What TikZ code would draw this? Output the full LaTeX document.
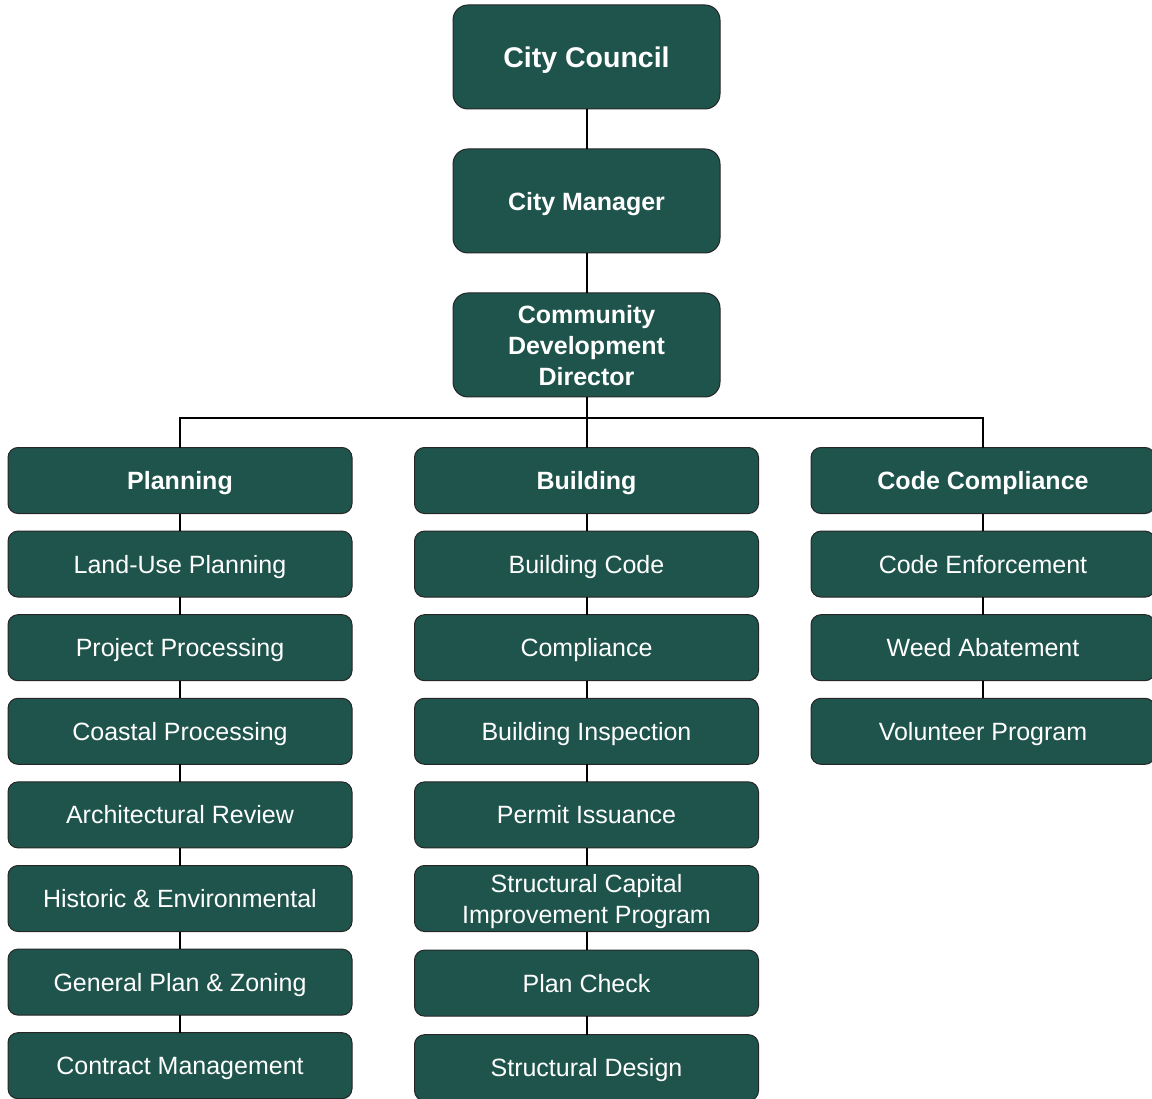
\documentclass[tikz,border=0pt]{standalone}
\usepackage{fontspec}
\setmainfont{Liberation Sans}
\usetikzlibrary{positioning}

\definecolor{boxgreen}{HTML}{1E544B}
\tikzset{
	topbox/.style = {draw = black!85, line width = 1pt, fill = boxgreen, rounded corners = 15pt,
		minimum width = 267pt, minimum height = 104pt, inner sep = 0pt, outer sep = 0pt, text depth = 0pt,
		text = white, align = center, font = \fontsize{25}{31}\selectfont\bfseries},
	headbox/.style = {draw = black!85, line width = 1pt, fill = boxgreen, rounded corners = 10pt,
		minimum width = 344pt, minimum height = 66pt, inner sep = 0pt, outer sep = 0pt, text depth = 0pt,
		text = white, align = center, font = \fontsize{25}{31}\selectfont\bfseries},
	unitbox/.style = {headbox, font = \fontsize{25}{31}\selectfont},
	link/.style = {draw = black, line width = 2pt}
}

\begin{document}
\begin{tikzpicture}[x = 1pt, y = -1pt]
		\useasboundingbox (0,0) rectangle (1152,1099);
		% top of the chart
		\node[topbox, font = \fontsize{28.5}{34}\selectfont\bfseries] at (586.5,57) (council) {City Council};
		\node[topbox, below = 40pt of council] (manager) {City Manager};
		\node[topbox, below = 40pt of manager] (director) {Community\\Development\\Director};
		\coordinate (bus) at (586.5,418);
		% divisions
		\node[headbox] at (180,480.5) (plan) {Planning};
		\node[headbox] at (586.5,480.5) (build) {Building};
		\node[headbox] at (983,480.5) (code) {Code Compliance};
		% planning
		\node[unitbox, below = 17.6pt of plan] (plan1) {Land-Use Planning};
		\node[unitbox, below = 17.6pt of plan1] (plan2) {Project Processing};
		\node[unitbox, below = 17.6pt of plan2] (plan3) {Coastal Processing};
		\node[unitbox, below = 17.6pt of plan3] (plan4) {Architectural Review};
		\node[unitbox, below = 17.6pt of plan4] (plan5) {Historic \& Environmental};
		\node[unitbox, below = 17.6pt of plan5] (plan6) {General Plan \& Zoning};
		\node[unitbox, below = 17.6pt of plan6] (plan7) {Contract Management};
		% building
		\node[unitbox, below = 17.6pt of build] (build1) {Building Code};
		\node[unitbox, below = 17.6pt of build1] (build2) {Compliance};
		\node[unitbox, below = 17.6pt of build2] (build3) {Building Inspection};
		\node[unitbox, below = 17.6pt of build3] (build4) {Permit Issuance};
		\node[unitbox, below = 17.6pt of build4] (build5) {Structural Capital\\Improvement Program};
		\node[unitbox, below = 18.6pt of build5] (build6) {Plan Check};
		\node[unitbox, below = 18.6pt of build6] (build7) {Structural Design};
		% code compliance
		\node[unitbox, below = 17.6pt of code] (code1) {Code Enforcement};
		\node[unitbox, below = 17.6pt of code1] (code2) {Weed Abatement};
		\node[unitbox, below = 17.6pt of code2] (code3) {Volunteer Program};

		\draw[link] (council) -- (manager);
		\draw[link] (manager) -- (director);
		\draw[link] (director) -- (build);
		\draw[link] (plan.north) |- (bus) -| (code.north);
		\draw[link] (plan) -- (plan1) (plan1) -- (plan2) (plan2) -- (plan3) (plan3) -- (plan4)
			(plan4) -- (plan5) (plan5) -- (plan6) (plan6) -- (plan7);
		\draw[link] (build) -- (build1);
		\draw[link] (build1) -- (build2) (build2) -- (build3) (build3) -- (build4)
			(build4) -- (build5) (build5) -- (build6) (build6) -- (build7);
		\draw[link] (code) -- (code1) (code1) -- (code2) (code2) -- (code3);
	\end{tikzpicture}
\end{document}
